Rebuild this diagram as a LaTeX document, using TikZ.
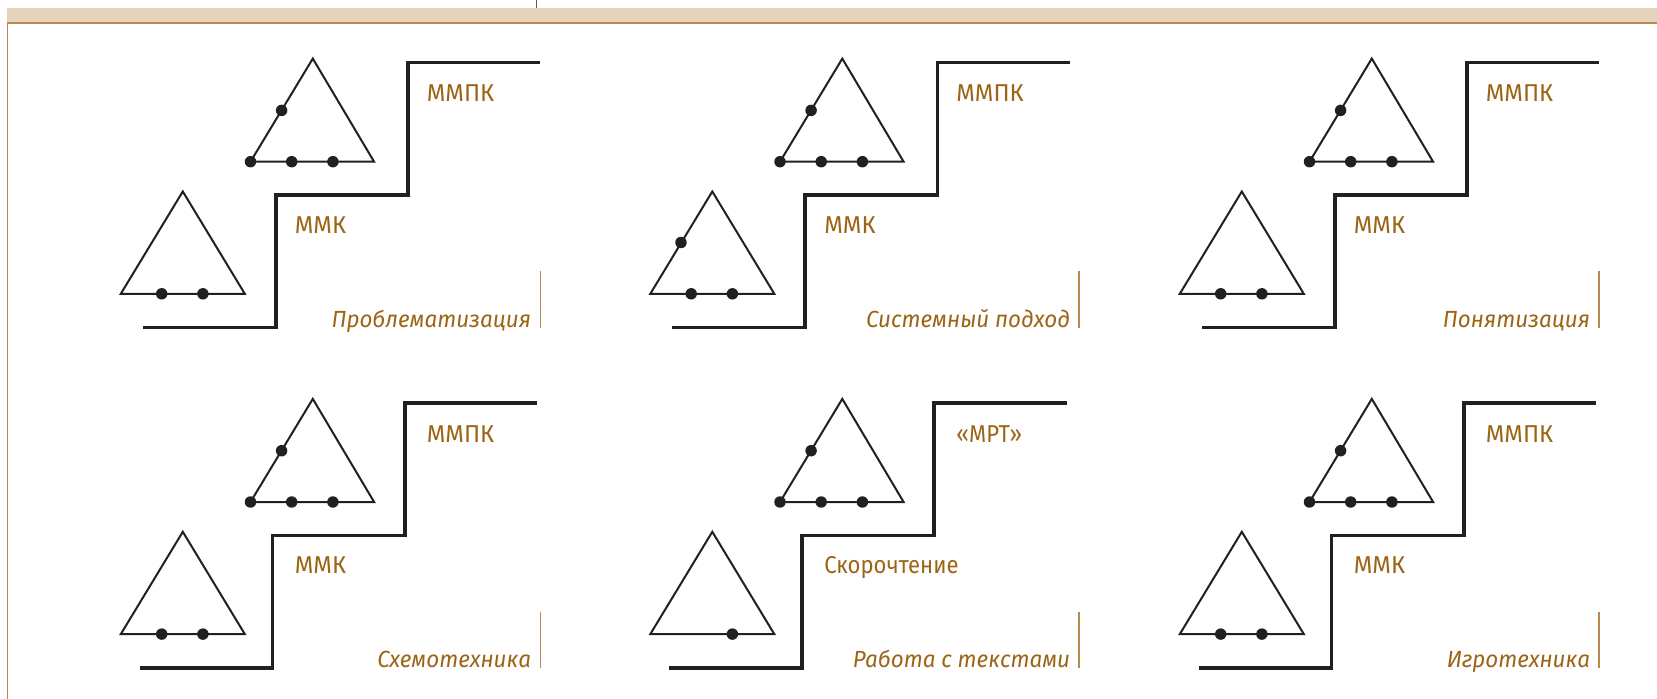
\documentclass[tikz,border=0pt]{standalone}
\usepackage{fontspec}
\setmainfont{Fira Sans}
\newfontfamily\narrowfont[FakeStretch=0.905]{Fira Sans}
\newfontfamily\narrowital[FakeStretch=0.96]{Fira Sans}
\newfontfamily\capsfont[FakeStretch=0.98]{Fira Sans}
\definecolor{inkblack}{HTML}{231F20}
\definecolor{labelbrown}{HTML}{9C6415}
\definecolor{bandtan}{HTML}{E5D3BC}
\definecolor{ruletan}{HTML}{B98A50}
\tikzset{
  tri/.style={draw=inkblack,line width=1.5pt,line join=miter},
  stair/.style={draw=inkblack,line width=2.7pt,line join=miter},
  rulemark/.style={draw=ruletan,line width=0.85pt},
  dotmark/.style={fill=inkblack,radius=4.3pt},
  lab/.style={text=labelbrown,font=\fontsize{18.3}{20}\selectfont,inner sep=0pt,anchor=base west},
  method/.style={text=labelbrown,font=\fontsize{17.5}{20}\narrowital\itshape,inner sep=0pt,anchor=base east}
}
% #1 dx, #2 dy, #3 stair dx, #4 rule x, #5 text right x, #6 upper label, #7 lower label, #8 method, #9 lower-triangle dots
\newcommand{\stairpanel}[9]{%
  \begin{scope}[shift={(#1,#2)}]
    \draw[tri] (312.8,58.6) -- (374.1,161.7) -- (250.5,161.7) -- cycle;
    \foreach \px/\py in {281.6/110.4,250.5/161.7,291.7/161.7,332.9/161.7}
      \fill[dotmark] (\px,\py) circle[];
    \draw[tri] (182.8,191.5) -- (244.8,293.8) -- (120.8,293.8) -- cycle;
    \foreach \px/\py in {#9}
      \fill[dotmark] (\px,\py) circle[];
    \node[lab] at (426.6,102) {#6};
    \node[lab] at (294.6,233.5) {#7};
  \end{scope}
  \draw[stair] (#1+#3+142.9,#2+327.5) -- ++(132.8,0) -- ++(0,-132.3) -- ++(132.2,0) -- ++(0,-132.7) -- ++(132.5,0);
  \draw[rulemark] (#4,#2+271.2) -- (#4,#2+328);
  \node[method] at (#5+0.8,#2+327.5) {#8};
}
\begin{document}
\begin{tikzpicture}[x=0.75pt,y=-0.75pt]
\useasboundingbox (0,0) rectangle (1657,699);
\fill[white] (0,0) rectangle (1657,699);
\fill[bandtan] (7,8.5) rectangle (1657,23);
\draw[ruletan,line width=0.9pt] (7,23) -- (1657,23);
\draw[ruletan,line width=0.9pt] (7.5,23) -- (7.5,699);
\draw[gray!70!black,line width=0.6pt] (536.5,0) -- (536.5,8.5);
\stairpanel{0}{0}{0}{540.4}{530.5}{\capsfont ММПК}{\capsfont ММК}{Проблематизация}{161.7/293.8,202.9/293.8}
\stairpanel{529.5}{0}{0}{1079}{1069.5}{\capsfont ММПК}{\capsfont ММК}{Системный подход}{151.5/242.5,161.7/293.8,202.9/293.8}
\stairpanel{1059}{0}{0}{1599}{1589.5}{\capsfont ММПК}{\capsfont ММК}{Понятизация}{161.7/293.8,202.9/293.8}
\stairpanel{0}{340.3}{-3.2}{540.4}{530.5}{\capsfont ММПК}{\capsfont ММК}{Схемотехника}{161.7/293.8,202.9/293.8}
\stairpanel{529.5}{340.3}{-3.2}{1079}{1069.5}{\narrowfont «МРТ»}{\narrowfont Скорочтение}{Работа с текстами}{202.9/293.8}
\stairpanel{1059}{340.3}{-3.2}{1599}{1589.5}{\capsfont ММПК}{\capsfont ММК}{Игротехника}{161.7/293.8,202.9/293.8}
\end{tikzpicture}
\end{document}
